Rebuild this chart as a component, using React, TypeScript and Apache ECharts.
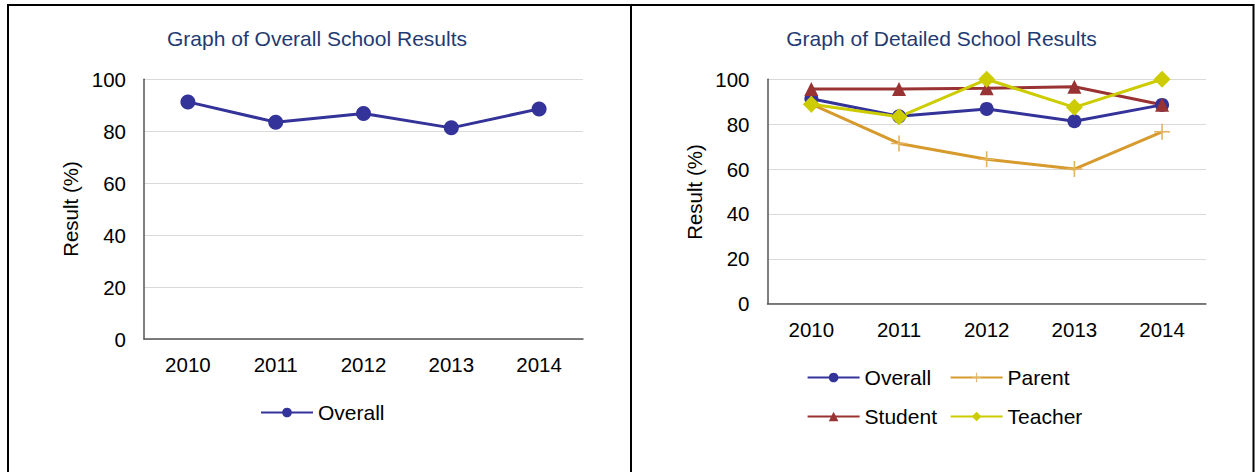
import React, { useEffect, useRef } from "react";
import * as echarts from "echarts";

const years = ["2010", "2011", "2012", "2013", "2014"];
const overall = [91.3, 83.5, 86.8, 81.3, 88.6];
const parent = [88.9, 71.4, 64.4, 60.0, 76.6];
const student = [95.7, 95.7, 96.0, 96.7, 88.7];
const teacher = [88.9, 83.3, 100, 87.5, 100];
const yTicks = { min: 0, max: 100, interval: 20 };
const titles = ["Graph of Overall School Results", "Graph of Detailed School Results"];
const yName = "Result (%)";

const FONT = "'Liberation Sans', Arial, sans-serif";
const C_OVERALL = "#333399";
const C_PARENT = "#D69A2D";
const C_STUDENT = "#993333";
const C_TEACHER = "#CCCC00";
const C_TITLE = "#1F3B73";
const PLUS = "path://M9,0h2v9h9v2h-9v9h-2v-9h-9v-2h9z";

export default function App() {
  const ref = useRef<HTMLDivElement>(null);
  useEffect(() => {
    if (!ref.current) return;
    const chart = echarts.init(ref.current, null, { renderer: "svg" });
    const xAxisBase = {
      type: "category" as const,
      data: years,
      boundaryGap: true,
      axisTick: { show: false },
      axisLine: { lineStyle: { color: "#555", width: 1.5 } },
      axisLabel: { fontSize: 20.5, color: "#000", fontFamily: FONT, margin: 15 },
    };
    const yAxisBase = {
      type: "value" as const,
      ...yTicks,
      axisTick: { show: false },
      axisLine: { show: true, lineStyle: { color: "#555", width: 1.5 } },
      splitLine: { lineStyle: { color: "#d9d9d9", width: 1.2 } },
      axisLabel: { fontSize: 20.5, color: "#000", fontFamily: FONT, margin: 18 },
    };
    const legendBase = {
      itemWidth: 52,
      itemHeight: 12,
      padding: 0,
      itemGap: 0,
      textStyle: { fontSize: 21, color: "#000", fontFamily: FONT },
    };
    chart.setOption({
      animation: false,
      grid: [
        { left: 144, top: 79.3, width: 439, height: 259.7 },
        { left: 767.5, top: 79.3, width: 438.4, height: 224.4 },
      ],
      xAxis: [
        { ...xAxisBase, gridIndex: 0 },
        { ...xAxisBase, gridIndex: 1 },
      ],
      yAxis: [
        { ...yAxisBase, gridIndex: 0 },
        { ...yAxisBase, gridIndex: 1 },
      ],
      legend: [
        { ...legendBase, data: ["Overall"], left: 260, top: 402 },
        { ...legendBase, data: ["Overall "], left: 806.6, top: 367 },
        { ...legendBase, data: ["Parent"], left: 949.6, top: 367 },
        { ...legendBase, data: ["Student"], left: 806.6, top: 406 },
        { ...legendBase, data: ["Teacher"], left: 949.6, top: 406 },
      ],
      series: [
        {
          name: "Overall",
          type: "line",
          xAxisIndex: 0,
          yAxisIndex: 0,
          data: overall,
          symbol: "circle",
          symbolSize: 15,
          color: C_OVERALL,
          lineStyle: { width: 3, color: C_OVERALL },
          itemStyle: { color: C_OVERALL },
        },
        {
          name: "Overall ",
          type: "line",
          xAxisIndex: 1,
          yAxisIndex: 1,
          data: overall,
          symbol: "circle",
          symbolSize: 14,
          color: C_OVERALL,
          lineStyle: { width: 3, color: C_OVERALL },
          itemStyle: { color: C_OVERALL },
        },
        {
          name: "Parent",
          type: "line",
          xAxisIndex: 1,
          yAxisIndex: 1,
          data: parent,
          symbol: PLUS,
          symbolSize: 16,
          color: C_PARENT,
          lineStyle: { width: 3, color: C_PARENT },
          itemStyle: { color: "#E3B35E" },
        },
        {
          name: "Student",
          type: "line",
          xAxisIndex: 1,
          yAxisIndex: 1,
          data: student,
          symbol: "triangle",
          symbolSize: 14,
          color: C_STUDENT,
          lineStyle: { width: 3, color: C_STUDENT },
          itemStyle: { color: C_STUDENT },
        },
        {
          name: "Teacher",
          type: "line",
          xAxisIndex: 1,
          yAxisIndex: 1,
          data: teacher,
          symbol: "diamond",
          symbolSize: 17,
          color: C_TEACHER,
          lineStyle: { width: 3, color: C_TEACHER },
          itemStyle: { color: C_TEACHER },
        },
      ],
      graphic: [
        { type: "line", shape: { x1: 7, y1: 5, x2: 1254, y2: 5 }, style: { stroke: "#000", lineWidth: 2 } },
        { type: "line", shape: { x1: 8, y1: 4, x2: 8, y2: 472 }, style: { stroke: "#000", lineWidth: 2 } },
        { type: "line", shape: { x1: 631, y1: 4, x2: 631, y2: 472 }, style: { stroke: "#000", lineWidth: 2 } },
        { type: "line", shape: { x1: 1253.5, y1: 4, x2: 1253.5, y2: 472 }, style: { stroke: "#000", lineWidth: 2 } },
        {
          type: "text",
          x: 317,
          y: 38.5,
          style: { text: titles[0], fontSize: 21, fill: C_TITLE, fontFamily: FONT, textAlign: "center", textVerticalAlign: "middle" },
        },
        {
          type: "text",
          x: 941.5,
          y: 38.5,
          style: { text: titles[1], fontSize: 21, fill: C_TITLE, fontFamily: FONT, textAlign: "center", textVerticalAlign: "middle" },
        },
        {
          type: "text",
          x: 70.5,
          y: 209,
          rotation: Math.PI / 2,
          style: { text: yName, fontSize: 20.5, fill: "#000", fontFamily: FONT, textAlign: "center", textVerticalAlign: "middle" },
        },
        {
          type: "text",
          x: 694,
          y: 192,
          rotation: Math.PI / 2,
          style: { text: yName, fontSize: 20.5, fill: "#000", fontFamily: FONT, textAlign: "center", textVerticalAlign: "middle" },
        },
      ],
    });
    return () => chart.dispose();
  }, []);
  return (
    <div
      ref={ref}
      style={{ position: "fixed", left: 0, top: 0, width: 1255, height: 472, background: "#fff" }}
    />
  );
}
